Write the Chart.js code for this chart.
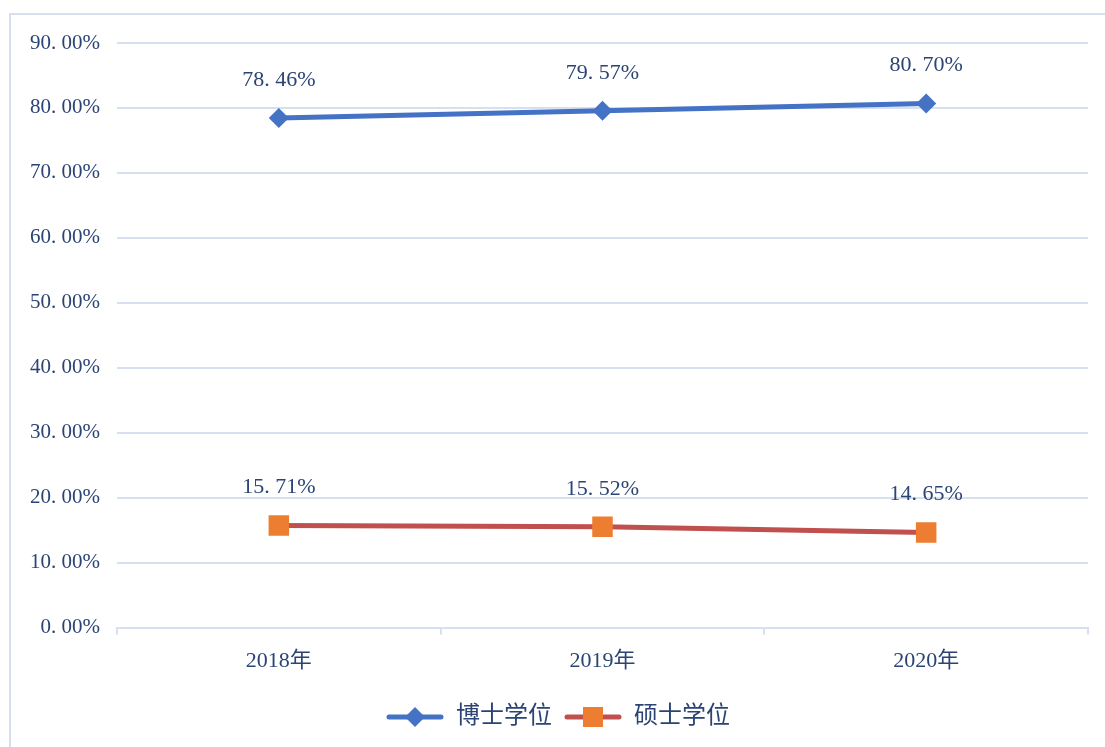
<!DOCTYPE html>
<html>
<head>
<meta charset="utf-8">
<script src="https://cdn.jsdelivr.net/npm/chart.js@4/dist/chart.umd.min.js"></script>
<style>
html,body{margin:0;padding:0;background:#fff;}
#wrap{width:1105px;height:747px;position:relative;}
</style>
</head>
<body>
<div id="wrap"><canvas id="c" width="1105" height="747"></canvas></div>
<script>
const categories = ['2018年', '2019年', '2020年'];
const seriesNames = ['博士学位', '硕士学位'];
const doctorValues = [78.46, 79.57, 80.70];
const masterValues = [15.71, 15.52, 14.65];
const doctorLabels = ['78. 46%', '79. 57%', '80. 70%'];
const masterLabels = ['15. 71%', '15. 52%', '14. 65%'];
const yTickLabels = ['0. 00%', '10. 00%', '20. 00%', '30. 00%', '40. 00%', '50. 00%', '60. 00%', '70. 00%', '80. 00%', '90. 00%'];

const TEXT = '#2B4474';
const GRID = '#D6E0F0';
const FONT = "'Liberation Serif', 'Noto Sans CJK SC', serif";
const BLUE = '#4472C4';
const RED = '#C0504D';
const ORANGE = '#ED7D31';

function legendIcon(lineColor, markerColor, type) {
  const cv = document.createElement('canvas');
  cv.width = 58; cv.height = 22;
  const g = cv.getContext('2d');
  g.strokeStyle = lineColor; g.lineWidth = 5; g.lineCap = 'round';
  g.beginPath(); g.moveTo(3, 11); g.lineTo(55, 11); g.stroke();
  g.fillStyle = markerColor;
  if (type === 'diamond') {
    g.beginPath(); g.moveTo(29, 1); g.lineTo(39, 11); g.lineTo(29, 21); g.lineTo(19, 11); g.closePath(); g.fill();
  } else {
    g.fillRect(19, 1, 20, 20);
  }
  return cv;
}
const icons = [legendIcon(BLUE, BLUE, 'diamond'), legendIcon(RED, ORANGE, 'square')];
const pointLabels = [doctorLabels, masterLabels];

const framePlugin = {
  id: 'frame',
  beforeDraw(chart) {
    const ctx = chart.ctx;
    ctx.save();
    ctx.strokeStyle = '#D5DFEE';
    ctx.lineWidth = 2;
    ctx.strokeRect(10, 14, chart.width + 20, chart.height + 20);
    ctx.restore();
  }
};

const legendShiftPlugin = {
  id: 'legendShift',
  afterLayout(chart) {
    if (chart.legend) {
      chart.legend.left += 14;
      chart.legend.right += 14;
    }
  }
};

const dataLabelPlugin = {
  id: 'dataLabels',
  afterDatasetsDraw(chart) {
    const ctx = chart.ctx;
    ctx.save();
    ctx.font = '22px ' + FONT;
    ctx.fillStyle = TEXT;
    ctx.textAlign = 'center';
    ctx.textBaseline = 'middle';
    chart.data.datasets.forEach((ds, di) => {
      const meta = chart.getDatasetMeta(di);
      meta.data.forEach((pt, i) => {
        ctx.fillText(pointLabels[di][i], pt.x, pt.y - 38);
      });
    });
    ctx.restore();
  }
};

new Chart(document.getElementById('c'), {
  type: 'line',
  data: {
    labels: categories,
    datasets: [
      {
        label: seriesNames[0],
        data: doctorValues,
        borderColor: BLUE,
        backgroundColor: BLUE,
        borderWidth: 5,
        pointStyle: 'rectRot',
        pointRadius: 10,
        pointHoverRadius: 10,
        pointBackgroundColor: BLUE,
        pointBorderWidth: 0,
        tension: 0
      },
      {
        label: seriesNames[1],
        data: masterValues,
        borderColor: RED,
        backgroundColor: ORANGE,
        borderWidth: 5,
        pointStyle: 'rect',
        pointRadius: 14.5,
        pointHoverRadius: 14.5,
        pointBackgroundColor: ORANGE,
        pointBorderWidth: 0,
        tension: 0
      }
    ]
  },
  options: {
    responsive: false,
    animation: false,
    layout: { padding: { left: 0, right: 17, top: 43, bottom: 8 } },
    plugins: {
      tooltip: { enabled: false },
      legend: {
        position: 'bottom',
        labels: {
          usePointStyle: true,
          pointStyleWidth: 58,
          boxHeight: 22,
          padding: 12,
          color: TEXT,
          font: { size: 24, family: FONT },
          generateLabels(chart) {
            return chart.data.datasets.map((ds, i) => ({
              text: ds.label,
              pointStyle: icons[i],
              fillStyle: 'transparent',
              strokeStyle: 'transparent',
              lineWidth: 0,
              fontColor: TEXT,
              datasetIndex: i,
              hidden: false
            }));
          }
        }
      }
    },
    scales: {
      x: {
        offset: true,
        afterFit(scale) { scale.height += 6; },
        grid: {
          offset: true,
          drawOnChartArea: false,
          drawTicks: true,
          tickLength: 7,
          color: GRID,
          lineWidth: 2
        },
        border: { display: true, color: GRID, width: 2 },
        ticks: { color: TEXT, font: { size: 22, family: FONT }, padding: 13 }
      },
      y: {
        min: 0,
        max: 90,
        afterFit(scale) { scale.width = 117; },
        grid: { color: GRID, lineWidth: 2, drawTicks: false },
        border: { display: false },
        ticks: {
          stepSize: 10,
          padding: 17,
          color: TEXT,
          font: { size: 21, family: FONT },
          callback: (v, i) => yTickLabels[i]
        }
      }
    }
  },
  plugins: [framePlugin, legendShiftPlugin, dataLabelPlugin]
});
</script>
</body>
</html>
